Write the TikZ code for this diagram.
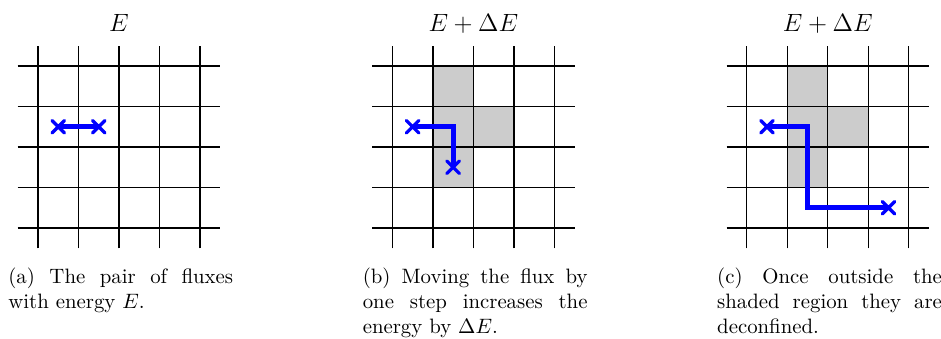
\documentclass[tikz,border=0pt]{standalone}
\usepackage{amsmath, amssymb}
\usetikzlibrary{shapes.misc}

\begin{document}
\begin{tikzpicture}[x=0.684cm, y=0.684cm,
  flux/.style={blue, line width=2.4pt},
  fluxend/.style={cross out, draw=blue, line width=1.6pt, line cap=round, minimum size=4.4pt, inner sep=0pt},
  title/.style={anchor=base, font=\fontsize{12.8pt}{15pt}\selectfont},
  subcap/.style={anchor=north west, inner sep=0pt, text width=108pt, align=justify,
    font={\hyphenpenalty10000\relax}}]
\useasboundingbox (-0.938,-2.716) rectangle (22.296,5.63);
% shaded region
\fill[gray!40] (9.75,1) rectangle (10.75,4);
\fill[gray!40] (10.75,2) rectangle (11.75,3);
\fill[gray!40] (18.5,1) rectangle (19.5,4);
\fill[gray!40] (19.5,2) rectangle (20.5,3);
% lattices
\foreach \dx in {0,8.75,17.5}{
  \foreach \i in {0,...,4}{
    \draw[line width=0.6pt] (\dx+\i,-0.5) -- (\dx+\i,4.5);
    \draw[line width=0.6pt] (\dx-0.5,\i) -- (\dx+4.5,\i);
  }
}
% titles
\node[title] (ta) at (2,4.84) {$E$};
\node[title] (tb) at (10.75,4.84) {$E+\Delta E$};
\node[title] (tc) at (19.5,4.84) {$E+\Delta E$};
% (a) pair of fluxes
\node[fluxend] (a1) at (0.5,2.5) {};
\node[fluxend] (a2) at (1.5,2.5) {};
\draw[flux] (a1.center) -- (a2.center);
% (b) one step
\node[fluxend] (b1) at (9.25,2.5) {};
\coordinate (bk) at (10.25,2.5);
\node[fluxend] (b2) at (10.25,1.5) {};
\draw[flux] (b1.center) -- (bk) -- (b2.center);
% (c) deconfined
\node[fluxend] (c1) at (18,2.5) {};
\coordinate (ck1) at (19,2.5);
\coordinate (ck2) at (19,0.5);
\node[fluxend] (c2) at (21,0.5) {};
\draw[flux] (c1.center) -- (ck1) -- (ck2) -- (c2.center);
% captions
\node[subcap] (ca) at (-0.741,-0.973) {(a) The pair of fluxes with energy $E$.};
\node[subcap] (cb) at (8.009,-0.973) {(b) Moving the flux by one step increases the energy by $\Delta E$.};
\node[subcap] (cc) at (16.76,-0.973) {(c) Once outside the shaded region they are deconfined.};
\end{tikzpicture}
\end{document}
